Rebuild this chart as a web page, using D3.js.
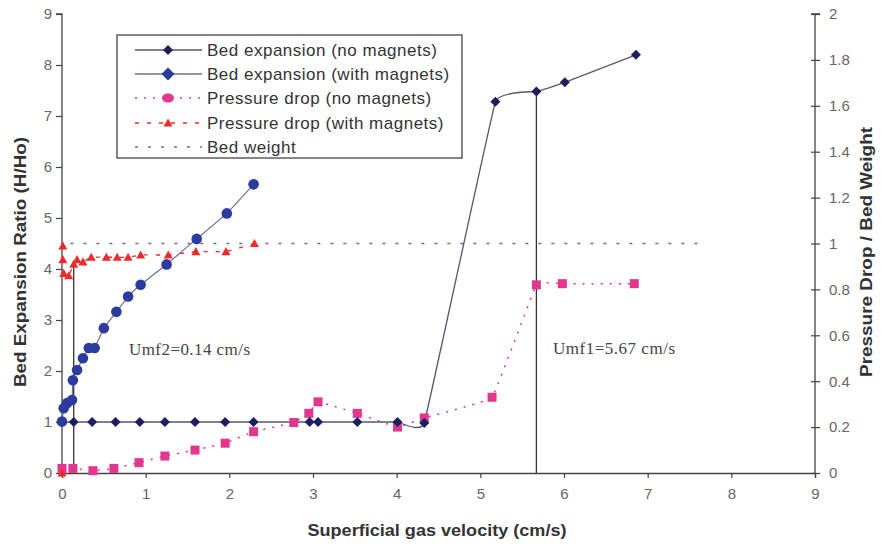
<!DOCTYPE html>
<html><head><meta charset="utf-8">
<script src="https://cdn.jsdelivr.net/npm/d3@7"></script>
<style>body{margin:0;background:#fff}svg{display:block}</style>
</head><body>
<svg id="c" width="882" height="546"></svg>
<script>
// ---- data ----
const xTicks = [0,1,2,3,4,5,6,7,8,9];
const leftTicks = [0,1,2,3,4,5,6,7,8,9];
const rightTicks = [0,0.2,0.4,0.6,0.8,1,1.2,1.4,1.6,1.8,2];

const bedNoMagX = [0, 0.14, 0.36, 0.64, 0.93, 1.23, 1.59, 1.95, 2.29, 2.96, 3.06, 3.53, 4.01, 4.33, 5.18, 5.67, 6.01, 6.86];
const bedNoMagY = [1, 1, 1, 1, 1, 1, 1, 1, 1, 1, 1, 1, 1, 0.98, 7.28, 7.48, 7.66, 8.2];

const bedMagX = [0, 0.02, 0.06, 0.12, 0.13, 0.18, 0.25, 0.32, 0.39, 0.50, 0.65, 0.79, 0.94, 1.25, 1.61, 1.97, 2.29];
const bedMagY = [1.01, 1.27, 1.37, 1.43, 1.82, 2.02, 2.25, 2.45, 2.45, 2.84, 3.16, 3.46, 3.69, 4.09, 4.59, 5.09, 5.66];

const dpNoMagX = [0, 0.13, 0.37, 0.62, 0.92, 1.23, 1.59, 1.95, 2.29, 2.77, 2.95, 3.06, 3.53, 4.01, 4.33, 5.14, 5.67, 5.98, 6.84];
const dpNoMagY = [0.02, 0.02, 0.01, 0.02, 0.045, 0.074, 0.10, 0.13, 0.18, 0.22, 0.26, 0.31, 0.26, 0.20, 0.24, 0.33, 0.82, 0.825, 0.825];

// first point (origin) is a lone marker; the dashed line starts at the second point
const dpMagX = [0, 0.01, 0.01, 0.02, 0.08, 0.14, 0.18, 0.25, 0.35, 0.53, 0.66, 0.79, 0.94, 1.27, 1.60, 1.96, 2.30];
const dpMagY = [0, 0.99, 0.93, 0.87, 0.86, 0.91, 0.93, 0.92, 0.94, 0.94, 0.94, 0.94, 0.95, 0.95, 0.965, 0.965, 1.0];

const bedWeightX = [0.1, 7.7];
const bedWeightY = [1, 1];

const umf2 = 0.14, umf2Top = 4.1;   // left-axis units
const umf1 = 5.67, umf1Top = 7.48;

const legendLabels = ["Bed expansion (no magnets)","Bed expansion (with magnets)","Pressure drop (no magnets)","Pressure drop (with magnets)","Bed weight"];

// ---- chart ----
const svg = d3.select("#c");
const x = d3.scaleLinear().domain([0,9]).range([62,815]);
const yL = d3.scaleLinear().domain([0,9]).range([473,14]);
const yR = d3.scaleLinear().domain([0,2]).range([473,14]);

const C = {navy:"#1c1f5c", blue:"#2b3c9e", pink:"#e2378f", red:"#ee2a2a", line:"#55586f", axis:"#444", tick:"#666", text:"#333"};

// axes
const gB = svg.append("g").attr("transform","translate(0,473)")
  .call(d3.axisBottom(x).tickValues(xTicks).tickSize(5).tickPadding(10).tickFormat(d3.format("d")));
const gL = svg.append("g").attr("transform","translate(62,0)")
  .call(d3.axisLeft(yL).tickValues(leftTicks).tickSize(6).tickPadding(4).tickFormat(d3.format("d")));
const gR = svg.append("g").attr("transform","translate(815,0)")
  .call(d3.axisRight(yR).tickValues(rightTicks).tickSize(5).tickPadding(9).tickFormat(d=>String(+d.toFixed(1))));
gR.selectAll(".tick line").attr("x1",-4);
[gB,gL,gR].forEach(g=>{
  g.select(".domain").attr("stroke",C.axis).attr("stroke-width",1.3);
  g.selectAll(".tick line").attr("stroke",C.axis).attr("stroke-width",1.2);
  g.selectAll("text").attr("fill",C.tick).style("font-family","Liberation Sans, Arial, sans-serif").style("font-size","15px");
});
gL.select(".domain").attr("d","M-6,14H0V473");
gR.select(".domain").attr("d","M-4,14H5M0,14V473");

// axis titles
svg.append("text").attr("x",437).attr("y",536).attr("text-anchor","middle")
  .attr("font-family","Liberation Sans Narrow, Liberation Sans, Arial, sans-serif").attr("font-weight","bold")
  .attr("font-size",17).attr("fill",C.text).attr("textLength",259).attr("lengthAdjust","spacingAndGlyphs")
  .text("Superficial gas velocity (cm/s)");
svg.append("text").attr("transform","translate(26,262) rotate(-90)").attr("text-anchor","middle")
  .attr("font-family","Liberation Sans Narrow, Liberation Sans, Arial, sans-serif").attr("font-weight","bold")
  .attr("font-size",17).attr("fill",C.text).attr("textLength",250).attr("lengthAdjust","spacingAndGlyphs")
  .text("Bed Expansion Ratio (H/Ho)");
svg.append("text").attr("transform","translate(872,252) rotate(-90)").attr("text-anchor","middle")
  .attr("font-family","Liberation Sans Narrow, Liberation Sans, Arial, sans-serif").attr("font-weight","bold")
  .attr("font-size",17).attr("fill",C.text).attr("textLength",250).attr("lengthAdjust","spacingAndGlyphs")
  .text("Pressure Drop / Bed Weight");

// vertical Umf lines
svg.append("line").attr("x1",x(umf2)).attr("x2",x(umf2)).attr("y1",yL(0)).attr("y2",yL(umf2Top)).attr("stroke","#333").attr("stroke-width",1.3);
svg.append("line").attr("x1",x(umf1)).attr("x2",x(umf1)).attr("y1",yL(0)).attr("y2",yL(umf1Top)).attr("stroke","#333").attr("stroke-width",1.3);

const zip = (a,b)=>a.map((v,i)=>[v,b[i]]);
const curve = d3.curveCardinal.tension(0.8);

// bed weight
svg.append("path").datum(zip(bedWeightX,bedWeightY))
  .attr("d",d3.line().x(d=>x(d[0])).y(d=>yR(d[1])))
  .attr("fill","none").attr("stroke","#6a6e90").attr("stroke-width",1.3).attr("stroke-dasharray","3,10");

// pressure no magnets
const dpNo = zip(dpNoMagX,dpNoMagY);
svg.append("path").datum(dpNo).attr("d",d3.line().curve(curve).x(d=>x(d[0])).y(d=>yR(d[1])))
  .attr("fill","none").attr("stroke",C.pink).attr("stroke-width",1.5).attr("stroke-dasharray","2,7");
// pressure with magnets
const dpM = zip(dpMagX,dpMagY);
svg.append("path").datum(dpM.slice(1)).attr("d",d3.line().curve(curve).x(d=>x(d[0])).y(d=>yR(d[1])))
  .attr("fill","none").attr("stroke",C.red).attr("stroke-width",1.3).attr("stroke-dasharray","4,8");

// bed lines
const bNo = zip(bedNoMagX,bedNoMagY);
svg.append("path").datum(bNo).attr("d",d3.line().curve(curve).x(d=>x(d[0])).y(d=>yL(d[1])))
  .attr("fill","none").attr("stroke",C.line).attr("stroke-width",1.3);
const bM = zip(bedMagX,bedMagY);
svg.append("path").datum(bM).attr("d",d3.line().curve(curve).x(d=>x(d[0])).y(d=>yL(d[1])))
  .attr("fill","none").attr("stroke","#6a6f9a").attr("stroke-width",1.2);

// markers
const diamond = (s)=>`M0,${-s}L${s},0L0,${s}L${-s},0Z`;
const tri = (s)=>`M0,${-s}L${s},${s*0.8}L${-s},${s*0.8}Z`;
svg.append("g").selectAll("rect").data(dpNo).join("rect")
  .attr("x",d=>x(d[0])-4.5).attr("y",d=>yR(d[1])-4.5).attr("width",9).attr("height",9).attr("fill",C.pink);
svg.append("g").selectAll("path").data(dpM).join("path")
  .attr("transform",d=>`translate(${x(d[0])},${yR(d[1])})`).attr("d",tri(4.5)).attr("fill",C.red);
svg.append("g").selectAll("path").data(bNo).join("path")
  .attr("transform",d=>`translate(${x(d[0])},${yL(d[1])})`).attr("d",diamond(5)).attr("fill",C.navy);
svg.append("g").selectAll("circle").data(bM).join("circle")
  .attr("cx",d=>x(d[0])).attr("cy",d=>yL(d[1])).attr("r",5.3).attr("fill",C.blue);

// annotations
svg.append("text").attr("x",129).attr("y",355).attr("font-family","Liberation Serif, Times New Roman, serif")
  .attr("font-size",17).attr("fill","#444").attr("textLength",121).text("Umf2=0.14 cm/s");
svg.append("text").attr("x",553).attr("y",354).attr("font-family","Liberation Serif, Times New Roman, serif")
  .attr("font-size",17).attr("fill","#444").attr("textLength",122).text("Umf1=5.67 cm/s");

// legend
const lg = svg.append("g");
lg.append("rect").attr("x",117).attr("y",35).attr("width",345).attr("height",123).attr("fill","#fff").attr("stroke","#444").attr("stroke-width",1.3);
const rowsY = [50,74,98,123,147];
const styles = [
  {stroke:C.line,dash:null,mk:"diamond",fill:C.navy,s:5},
  {stroke:"#6a6f9a",dash:null,mk:"diamond",fill:C.blue,s:6.5},
  {stroke:C.pink,dash:"2,7",mk:"circle",fill:C.pink,s:5.5},
  {stroke:C.red,dash:"4,8",mk:"tri",fill:C.red,s:4.5},
  {stroke:"#6a6e90",dash:"3,10",mk:null}
];
legendLabels.forEach((t,i)=>{
  const st = styles[i], y = rowsY[i];
  lg.append("line").attr("x1",135).attr("x2",202).attr("y1",y).attr("y2",y)
    .attr("stroke",st.stroke).attr("stroke-width",1.3).attr("stroke-dasharray",st.dash);
  if(st.mk==="diamond") lg.append("path").attr("transform",`translate(168,${y})`).attr("d",diamond(st.s)).attr("fill",st.fill);
  if(st.mk==="circle") lg.append("ellipse").attr("cx",168).attr("cy",y).attr("rx",6).attr("ry",4.5).attr("fill",st.fill);
  if(st.mk==="tri") lg.append("path").attr("transform",`translate(168,${y})`).attr("d",tri(st.s)).attr("fill",st.fill);
  lg.append("text").attr("x",207).attr("y",y+6).attr("font-family","Liberation Sans, Arial, sans-serif")
    .attr("font-size",17).attr("fill",C.text).attr("letter-spacing",0.5).text(t);
});
</script>
</body></html>
